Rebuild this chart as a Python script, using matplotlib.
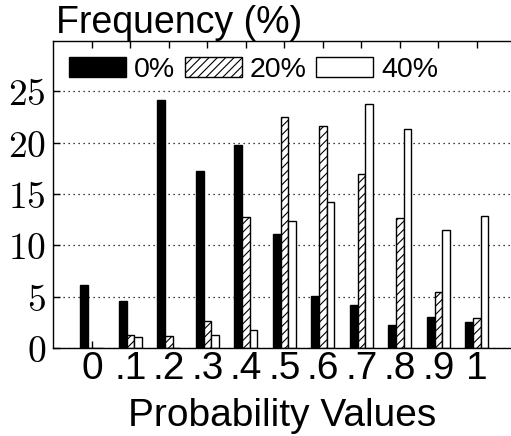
import numpy as np
import matplotlib.pyplot as plt

plt.rcParams['font.family'] = ['Liberation Sans', 'DejaVu Sans']
plt.rcParams['mathtext.fontset'] = 'cm'
plt.rcParams['hatch.linewidth'] = 0.8

# data
tick_labels = ['0', '.1', '.2', '.3', '.4', '.5', '.6', '.7', '.8', '.9', '1']
freq_0 = [6.1, 4.6, 24.2, 17.25, 19.75, 11.1, 5.1, 4.15, 2.2, 3.05, 2.55]
freq_20 = [0.0, 1.3, 1.2, 2.6, 12.8, 22.5, 21.6, 16.9, 12.65, 5.5, 2.9]
freq_40 = [0.0, 1.05, 0.0, 1.25, 1.75, 12.4, 14.2, 23.8, 21.3, 11.45, 12.85]
y_ticks = [0, 5, 10, 15, 20, 25]

x = np.arange(len(tick_labels))
w = 0.2

fig = plt.figure(figsize=(5.11, 4.36), dpi=100)
ax = fig.add_axes([53/511, 88/436, 458.5/511, 307/436])

ax.bar(x - w, freq_0, w, color='black', edgecolor='black', linewidth=1, label='0%')
ax.bar(x, freq_20, w, color='white', edgecolor='black', linewidth=1, hatch='////', label='20%')
ax.bar(x + w, freq_40, w, color='white', edgecolor='black', linewidth=1, label='40%')

ax.set_xlim(-1.01, 10.9)
ax.set_ylim(0, 29.9)
ax.set_axisbelow(True)
ax.yaxis.grid(True, color='black', linestyle=(0, (1, 3)), linewidth=0.9)

ax.set_xticks(x)
ax.set_xticklabels(tick_labels, fontsize=28)
ax.set_yticks(y_ticks)
ax.set_yticklabels(['$%d$' % v for v in y_ticks], fontsize=27)
ax.tick_params(axis='x', direction='in', top=True, length=5, width=1, pad=2)
ax.tick_params(axis='y', direction='in', length=5, width=1, pad=5)
ax.spines['right'].set_visible(False)
for s in ['left', 'top', 'bottom']:
    ax.spines[s].set_linewidth(1)

ax.set_xlabel('Probability Values', fontsize=28, labelpad=8)
ax.text(0.006, 1.0, 'Frequency (%)', transform=ax.transAxes, fontsize=27,
        ha='left', va='bottom')

ax.legend(loc='upper left', ncol=3, frameon=False, fontsize=20.5,
          handlelength=2.0, handleheight=0.72, handletextpad=0.28,
          columnspacing=0.35, borderaxespad=0.35, borderpad=0.2)

plt.savefig('out.png', dpi=100)
